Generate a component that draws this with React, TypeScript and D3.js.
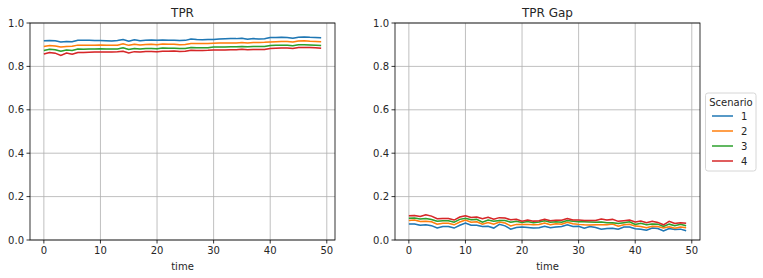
import React from "react";
import * as d3 from "d3";

const times: number[] = Array.from({ length: 50 }, (_, i) => i);
const scenarios = ["1", "2", "3", "4"];
const colors = ["#1f77b4", "#ff7f0e", "#2ca02c", "#d62728"];

const tpr1 = [0.918,0.919,0.918,0.912,0.915,0.914,0.920,0.920,0.920,0.919,0.919,0.918,0.917,0.919,0.924,0.916,0.923,0.918,0.921,0.922,0.920,0.922,0.921,0.921,0.919,0.920,0.926,0.924,0.923,0.924,0.924,0.926,0.927,0.928,0.928,0.930,0.925,0.928,0.926,0.927,0.933,0.933,0.934,0.933,0.930,0.934,0.936,0.934,0.933,0.932];
const tpr2 = [0.892,0.896,0.894,0.889,0.892,0.893,0.898,0.897,0.897,0.898,0.899,0.898,0.897,0.898,0.904,0.897,0.902,0.899,0.901,0.902,0.900,0.903,0.902,0.902,0.900,0.901,0.906,0.905,0.905,0.905,0.907,0.908,0.908,0.908,0.908,0.910,0.908,0.910,0.910,0.911,0.913,0.914,0.915,0.915,0.912,0.917,0.918,0.916,0.915,0.914];
const tpr3 = [0.873,0.879,0.877,0.870,0.876,0.873,0.880,0.879,0.880,0.880,0.881,0.880,0.880,0.880,0.886,0.878,0.883,0.880,0.882,0.883,0.881,0.885,0.884,0.884,0.882,0.883,0.887,0.886,0.886,0.886,0.889,0.889,0.889,0.890,0.890,0.892,0.890,0.892,0.892,0.892,0.896,0.897,0.898,0.898,0.895,0.900,0.900,0.899,0.898,0.896];
const tpr4 = [0.857,0.864,0.861,0.850,0.862,0.856,0.864,0.864,0.865,0.866,0.866,0.866,0.866,0.867,0.870,0.862,0.868,0.866,0.869,0.869,0.867,0.870,0.870,0.871,0.869,0.870,0.874,0.873,0.873,0.874,0.876,0.876,0.876,0.877,0.877,0.879,0.877,0.878,0.878,0.878,0.883,0.884,0.885,0.885,0.883,0.887,0.887,0.887,0.886,0.884];

const gap1 = [0.074,0.074,0.068,0.070,0.066,0.055,0.062,0.062,0.055,0.068,0.078,0.068,0.068,0.062,0.063,0.055,0.072,0.065,0.050,0.058,0.060,0.058,0.055,0.056,0.063,0.057,0.060,0.062,0.070,0.062,0.063,0.054,0.062,0.058,0.050,0.053,0.054,0.050,0.060,0.060,0.052,0.049,0.045,0.055,0.053,0.042,0.053,0.048,0.050,0.043];
const gap2 = [0.090,0.092,0.085,0.086,0.084,0.073,0.077,0.077,0.070,0.083,0.092,0.082,0.084,0.073,0.081,0.073,0.083,0.078,0.065,0.072,0.072,0.072,0.070,0.071,0.078,0.070,0.075,0.073,0.082,0.075,0.072,0.070,0.069,0.070,0.070,0.070,0.074,0.064,0.070,0.072,0.064,0.062,0.056,0.063,0.062,0.055,0.061,0.054,0.060,0.057];
const gap3 = [0.100,0.101,0.097,0.099,0.094,0.086,0.089,0.089,0.082,0.095,0.100,0.093,0.095,0.082,0.092,0.086,0.090,0.090,0.082,0.086,0.081,0.085,0.080,0.083,0.089,0.082,0.084,0.082,0.090,0.086,0.084,0.084,0.083,0.082,0.083,0.080,0.080,0.076,0.080,0.084,0.072,0.077,0.070,0.074,0.073,0.063,0.073,0.066,0.072,0.066];
const gap4 = [0.112,0.113,0.108,0.116,0.110,0.098,0.099,0.099,0.092,0.106,0.112,0.104,0.106,0.098,0.105,0.096,0.103,0.101,0.093,0.096,0.087,0.092,0.087,0.089,0.096,0.089,0.091,0.091,0.099,0.092,0.092,0.090,0.090,0.090,0.097,0.092,0.095,0.086,0.089,0.092,0.083,0.087,0.080,0.086,0.081,0.070,0.086,0.076,0.080,0.077];

const tprSeries = [tpr1, tpr2, tpr3, tpr4];
const gapSeries = [gap1, gap2, gap3, gap4];
const xTicks = [0, 10, 20, 30, 40, 50];
const yTicks = [0, 0.2, 0.4, 0.6, 0.8, 1.0];
const ciHalf = 0.003;

const FONT = "DejaVu Sans, sans-serif";

function Panel({ left, right, title, series }: { left: number; right: number; title: string; series: number[][] }) {
  const top = 23;
  const bottom = 240;
  const x = d3.scaleLinear().domain([-2.45, 51.45]).range([left, right]);
  const y = d3.scaleLinear().domain([0, 1]).range([bottom, top]);
  const line = d3.line<number>().x((_, i) => x(times[i])).y((d) => y(d));
  const area = d3
    .area<number>()
    .x((_, i) => x(times[i]))
    .y0((d) => y(d - ciHalf))
    .y1((d) => y(d + ciHalf));
  return (
    <g>
      {xTicks.map((t) => (
        <line key={"gx" + t} x1={x(t)} x2={x(t)} y1={top} y2={bottom} stroke="#b0b0b0" strokeWidth={0.8} />
      ))}
      {yTicks.map((t) => (
        <line key={"gy" + t} x1={left} x2={right} y1={y(t)} y2={y(t)} stroke="#b0b0b0" strokeWidth={0.8} />
      ))}
      {series.map((s, k) => (
        <path key={"a" + k} d={area(s) || ""} fill={colors[k]} fillOpacity={0.2} stroke="none" />
      ))}
      {series.map((s, k) => (
        <path key={"l" + k} d={line(s) || ""} fill="none" stroke={colors[k]} strokeWidth={1.5} />
      ))}
      <rect x={left} y={top} width={right - left} height={bottom - top} fill="none" stroke="#000" strokeWidth={0.8} />
      {xTicks.map((t) => (
        <g key={"tx" + t}>
          <line x1={x(t)} x2={x(t)} y1={bottom} y2={bottom + 3.5} stroke="#000" strokeWidth={0.8} />
          <text x={x(t)} y={bottom + 14} textAnchor="middle" fontSize={10} fontFamily={FONT} fill="#262626">
            {t}
          </text>
        </g>
      ))}
      {yTicks.map((t) => (
        <g key={"ty" + t}>
          <line x1={left - 3.5} x2={left} y1={y(t)} y2={y(t)} stroke="#000" strokeWidth={0.8} />
          <text x={left - 6} y={y(t) + 3.6} textAnchor="end" fontSize={10} fontFamily={FONT} fill="#262626">
            {t.toFixed(1)}
          </text>
        </g>
      ))}
      <text x={(left + right) / 2} y={270} textAnchor="middle" fontSize={10} fontFamily={FONT} fill="#262626">
        time
      </text>
      <text x={(left + right) / 2} y={17} textAnchor="middle" fontSize={12} fontFamily={FONT} fill="#262626">
        {title}
      </text>
    </g>
  );
}

export default function App() {
  return (
    <svg width={763} height={278} style={{ position: "absolute", left: 0, top: 0, background: "#fff" }}>
      <rect x={0} y={0} width={763} height={278} fill="#fff" />
      <Panel left={30} right={335} title="TPR" series={tprSeries} />
      <Panel left={395} right={700} title="TPR Gap" series={gapSeries} />
      <g>
        <rect x={705.5} y={93} width={50.5} height={78} rx={2.5} fill="#fff" fillOpacity={0.8} stroke="#cccccc" strokeWidth={0.8} />
        <text x={731} y={106} textAnchor="middle" fontSize={10} fontFamily={FONT} fill="#262626">
          Scenario
        </text>
        {scenarios.map((s, k) => (
          <g key={s}>
            <line x1={712} x2={733} y1={116 + k * 15} y2={116 + k * 15} stroke={colors[k]} strokeWidth={1.5} />
            <text x={741} y={116 + k * 15 + 3.6} fontSize={10} fontFamily={FONT} fill="#262626">
              {s}
            </text>
          </g>
        ))}
      </g>
    </svg>
  );
}
